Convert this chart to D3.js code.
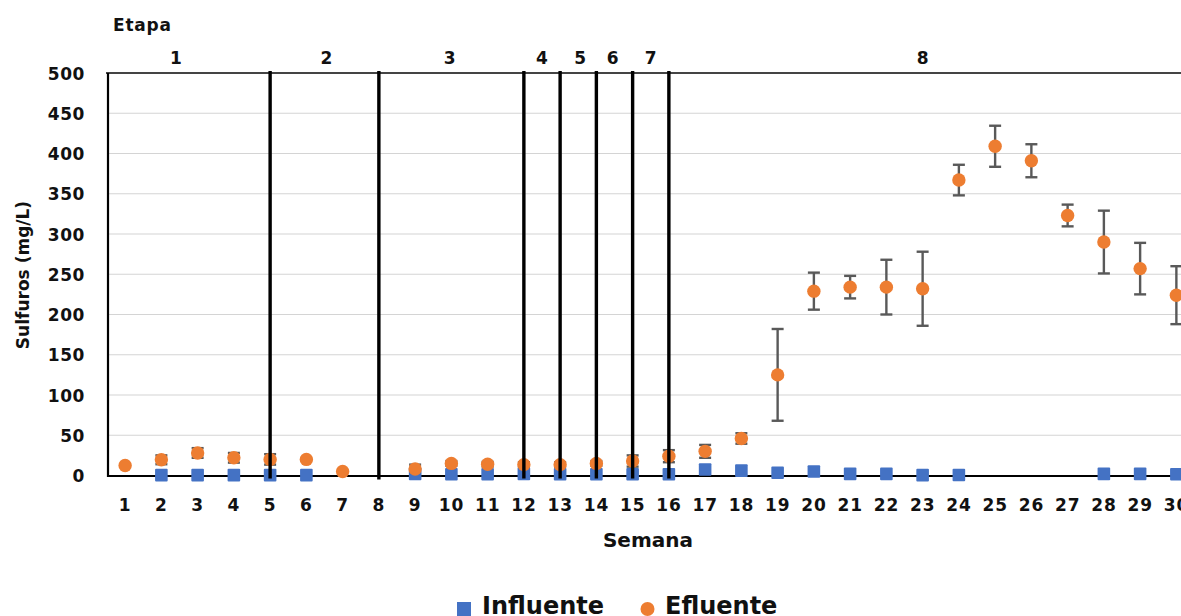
<!DOCTYPE html>
<html>
<head>
<meta charset="utf-8">
<script src="https://cdn.jsdelivr.net/npm/d3@7/dist/d3.min.js"></script>
<style>
  html, body { margin: 0; padding: 0; background: #fff; }
  svg { display: block; }
  text { font-family: "DejaVu Sans", Verdana, sans-serif; font-weight: bold; fill: #111; }
</style>
</head>
<body>
<svg id="chart" width="1181" height="616"></svg>
<script>
// ---- data ----
const weeks = d3.range(1, 31);
const influente = [null, 0.5, 0.5, 0.5, 0.5, 0.5, null, null, 2, 1.5, 1.5, 2, 1.5, 1.5, 1.5, 1.5,
                   7.5, 6, 3.5, 5, 2, 2, 0.5, 0.7, null, null, null, 2, 2, 1.5];
const efluente = [12.5, 19.5, 28, 22, 20, 20, 5, null, 8, 15, 14, 13.5, 13.5, 15, 18, 24,
                  30, 46, 125, 229, 234, 234, 232, 367, 409, 391, 323, 290, 257, 224];
const efluenteErr = [0, 5.5, 6, 6, 6.5, 0, 0, 0, 5.5, 3, 3, 3, 3, 3, 7, 7.5,
                     8, 6.5, 57, 23, 14, 34, 46, 19, 25.5, 20.5, 13.5, 39, 32, 36];
const yTicks = [0, 50, 100, 150, 200, 250, 300, 350, 400, 450, 500];
const stageBoundaries = [5, 8, 12, 13, 14, 15, 16];
const stageLabels = ["1", "2", "3", "4", "5", "6", "7", "8"];
const stageCenters = [2.4, 6.55, 9.95, 12.5, 13.55, 14.45, 15.5, 23];
const seriesNames = ["Influente", "Efluente"];
const colors = {influente: "#4472C4", efluente: "#ED7D31"};

// ---- scales ----
const svg = d3.select("#chart");
const W = 1181, H = 616;
const plotLeft = 108, plotTop = 73, plotBottom = 475.5;

const xBand = d3.scaleBand().domain(weeks).range([107, 107 + 30 * 36.25]).padding(0);
const xc = w => xBand(w) + xBand.bandwidth() / 2;
const xLin = d3.scaleLinear().domain([1, 30]).range([xc(1), xc(30)]);
const y = d3.scaleLinear().domain([0, 500]).range([plotBottom, plotTop]);

svg.append("rect").attr("width", W).attr("height", H).attr("fill", "#fff");

// gridlines
svg.append("g").selectAll("line").data(yTicks.filter(t => t > 0 && t < 500)).join("line")
  .attr("x1", plotLeft).attr("x2", W)
  .attr("y1", d => y(d)).attr("y2", d => y(d))
  .attr("stroke", "#d4d4d4").attr("stroke-width", 1.2);

// top border
svg.append("line").attr("x1", plotLeft - 2).attr("x2", W)
  .attr("y1", y(500)).attr("y2", y(500))
  .attr("stroke", "#444").attr("stroke-width", 1.8);

// y axis
const yAxis = d3.axisLeft(y).tickValues(yTicks).tickSize(0).tickPadding(0);
const gy = svg.append("g").attr("transform", `translate(85,0)`).call(yAxis);
gy.select(".domain").remove();
gy.selectAll("text").attr("font-size", 17).attr("font-family", "DejaVu Sans")
  .attr("font-weight", "bold").attr("fill", "#111").attr("dy", "0.36em")
  .style("letter-spacing", "0.6px");

// x axis labels
const xAxis = d3.axisBottom(xBand).tickSize(0).tickPadding(0);
const gx = svg.append("g").attr("transform", `translate(0,${plotBottom + 22})`).call(xAxis);
gx.select(".domain").remove();
gx.selectAll("text").attr("font-size", 17).attr("font-family", "DejaVu Sans")
  .attr("font-weight", "bold").attr("fill", "#111").attr("dy", "0.78em")
  .style("letter-spacing", "0.8px");

// axis lines
svg.append("line").attr("x1", plotLeft).attr("x2", W)
  .attr("y1", plotBottom + 0.5).attr("y2", plotBottom + 0.5)
  .attr("stroke", "#000").attr("stroke-width", 2.2);
svg.append("line").attr("x1", plotLeft).attr("x2", plotLeft)
  .attr("y1", plotTop).attr("y2", plotBottom + 1.5)
  .attr("stroke", "#000").attr("stroke-width", 2.2);

// error bars
const effData = weeks.map((w, i) => ({w, v: efluente[i], e: efluenteErr[i]}))
  .filter(d => d.v !== null);
const eb = svg.append("g").attr("stroke", "#595959").attr("stroke-width", 2.4).attr("fill", "none");
effData.filter(d => d.e > 0).forEach(d => {
  const x0 = xc(d.w), capW = 6;
  eb.append("line").attr("x1", x0).attr("x2", x0).attr("y1", y(d.v + d.e)).attr("y2", y(d.v - d.e));
  eb.append("line").attr("x1", x0 - capW).attr("x2", x0 + capW).attr("y1", y(d.v + d.e)).attr("y2", y(d.v + d.e));
  eb.append("line").attr("x1", x0 - capW).attr("x2", x0 + capW).attr("y1", y(d.v - d.e)).attr("y2", y(d.v - d.e));
});

// influente squares
const infData = weeks.map((w, i) => ({w, v: influente[i]})).filter(d => d.v !== null);
svg.append("g").selectAll("rect").data(infData).join("rect")
  .attr("x", d => xc(d.w) - 6.3).attr("y", d => y(d.v) - 6.3)
  .attr("width", 12.6).attr("height", 12.6).attr("rx", 1)
  .attr("fill", colors.influente);

// efluente circles
svg.append("g").selectAll("circle").data(effData).join("circle")
  .attr("cx", d => xc(d.w)).attr("cy", d => y(d.v)).attr("r", 6.7)
  .attr("fill", colors.efluente);

// stage boundaries
svg.append("g").selectAll("line").data(stageBoundaries).join("line")
  .attr("x1", d => xc(d)).attr("x2", d => xc(d))
  .attr("y1", plotTop - 2).attr("y2", d => d === 8 ? plotBottom + 4 : plotBottom + 3)
  .attr("stroke", "#000").attr("stroke-width", 3.4);

// stage labels
svg.append("g").selectAll("text").data(stageLabels).join("text")
  .attr("x", (d, i) => xLin(stageCenters[i])).attr("y", 64)
  .attr("text-anchor", "middle").attr("font-size", 17).text(d => d);

svg.append("text").attr("x", 113).attr("y", 30.5).attr("font-size", 17)
  .style("letter-spacing", "0.8px").text("Etapa");

// axis titles
svg.append("text").attr("x", 648).attr("y", 546.5).attr("text-anchor", "middle")
  .attr("font-size", 20).text("Semana");
svg.append("text").attr("transform", "translate(29,275) rotate(-90)")
  .attr("text-anchor", "middle").attr("font-size", 17).text("Sulfuros (mg/L)");

// legend
const lg = svg.append("g");
lg.append("rect").attr("x", 457).attr("y", 602).attr("width", 14).attr("height", 14)
  .attr("fill", colors.influente);
lg.append("text").attr("x", 482).attr("y", 614).attr("font-size", 24).text(seriesNames[0]);
lg.append("circle").attr("cx", 647.5).attr("cy", 609).attr("r", 7).attr("fill", colors.efluente);
lg.append("text").attr("x", 665).attr("y", 614).attr("font-size", 24).text(seriesNames[1]);
</script>
</body>
</html>
